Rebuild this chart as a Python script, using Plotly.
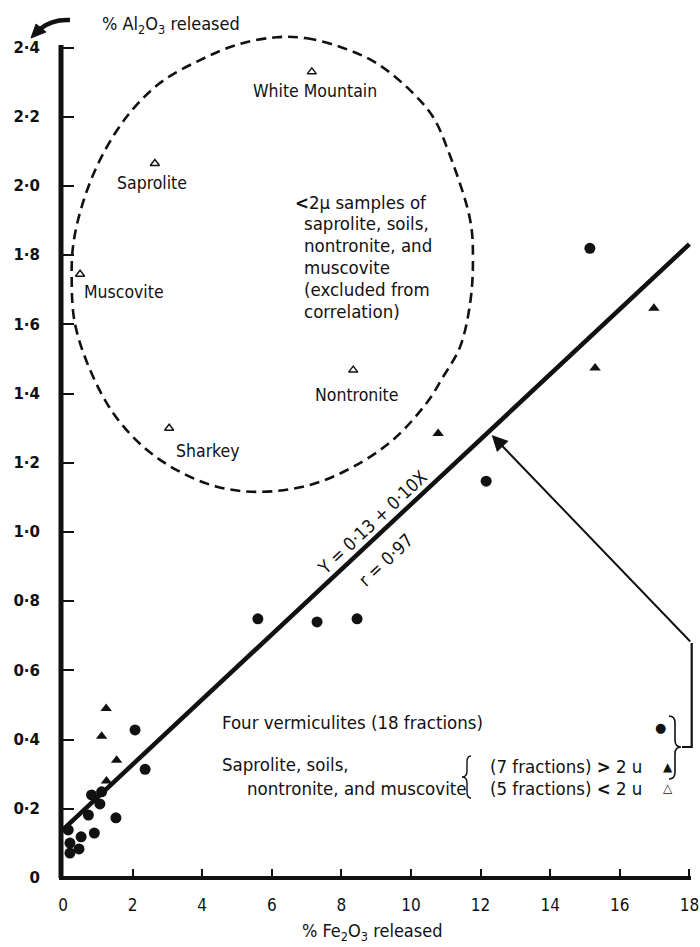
import plotly.graph_objects as go

# ---------------- data ----------------
verm_x = [15.14, 12.16, 5.60, 7.30, 8.45, 2.07, 2.36, 1.52,
          0.82, 1.11, 1.06, 0.73, 0.90, 0.52, 0.15, 0.20, 0.46, 0.20]
verm_y = [1.820, 1.147, 0.749, 0.740, 0.749, 0.428, 0.314, 0.174,
          0.240, 0.249, 0.214, 0.182, 0.130, 0.119, 0.139, 0.101, 0.084, 0.072]

coarse_x = [16.98, 15.29, 10.78, 1.24, 1.11, 1.54, 1.25]
coarse_y = [1.647, 1.474, 1.285, 0.490, 0.410, 0.340, 0.280]

fine_names = ["White Mountain", "Saprolite", "Muscovite", "Nontronite", "Sharkey"]
fine_x = [7.15, 2.64, 0.49, 8.34, 3.05]
fine_y = [2.330, 2.065, 1.745, 1.468, 1.300]

fit_intercept = 0.14
fit_slope = 0.094
fit_x = [0, 18]
fit_y = [fit_intercept + fit_slope * v for v in fit_x]

x_ticks = [0, 2, 4, 6, 8, 10, 12, 14, 16, 18]
y_ticks = [0, 0.2, 0.4, 0.6, 0.8, 1.0, 1.2, 1.4, 1.6, 1.8, 2.0, 2.2, 2.4]
y_ticklabels = ["0", "0·2", "0·4", "0·6", "0·8", "1·0", "1·2", "1·4",
                "1·6", "1·8", "2·0", "2·2", "2·4"]

# dashed outline around the excluded <2u samples
ellipse_x = [6.14, 7.00, 8.05, 9.01, 9.97, 10.63, 11.06, 11.70, 11.78, 11.70,
             11.41, 10.92, 10.45, 9.48, 8.33, 7.10, 5.66, 4.42, 3.27, 2.30,
             1.44, 0.78, 0.34, 0.25, 0.30, 0.57, 1.06, 1.83, 2.79, 3.94, 4.99, 6.14]
ellipse_y = [2.430, 2.427, 2.399, 2.355, 2.277, 2.200, 2.104, 1.902, 1.786, 1.662,
             1.535, 1.448, 1.373, 1.266, 1.188, 1.136, 1.116, 1.131, 1.179, 1.247,
             1.344, 1.468, 1.604, 1.728, 1.835, 1.951, 2.075, 2.200, 2.298, 2.364, 2.408, 2.430]

# ---------------- layout geometry ----------------
W, H = 700, 947
ML, MR, MT, MB = 63, 5, 30, 69
PW, PH = W - ML - MR, H - MT - MB
SX, SY = 34.8, 346.0
X_RANGE = [0, PW / SX]
Y_RANGE = [0, PH / SY]

def fx(px):
    return (px - ML) / PW

def fy(py):
    return (H - MB - py) / PH

FONT = "DejaVu Sans Condensed, DejaVu Sans, sans-serif"
INK = "#111111"

fig = go.Figure()

fig.add_trace(go.Scatter(x=ellipse_x, y=ellipse_y, mode="lines",
                         line=dict(color=INK, width=2.6, dash="10px,6px", shape="spline", smoothing=1.0),
                         hoverinfo="skip", showlegend=False))

fig.add_trace(go.Scatter(x=fit_x, y=fit_y, mode="lines",
                         line=dict(color=INK, width=4.5), showlegend=False))

fig.add_trace(go.Scatter(x=verm_x, y=verm_y, mode="markers",
                         marker=dict(symbol="circle", size=11, color=INK),
                         name="Four vermiculites", showlegend=False))

fig.add_trace(go.Scatter(x=coarse_x, y=coarse_y, mode="markers",
                         marker=dict(symbol="triangle-up", size=10, color=INK),
                         name=">2u", showlegend=False))

fig.add_trace(go.Scatter(x=fine_x, y=fine_y, mode="markers",
                         marker=dict(symbol="triangle-up-open", size=8, color=INK,
                                     line=dict(width=1.4, color=INK)),
                         name="<2u", text=fine_names, showlegend=False, cliponaxis=False))

ann = []

def text(px, py, s, size=16, xanchor="center", angle=0, family=FONT, align="left"):
    ann.append(dict(x=fx(px), y=fy(py), xref="paper", yref="paper", text=s,
                    showarrow=False, xanchor=xanchor, yanchor="middle", align=align,
                    textangle=angle, font=dict(family=family, size=size, color=INK)))

# point labels
label_pos = [(315, 91, "center"), (152, 183, "center"), (82, 292, "left"),
             (356, 395, "center"), (208, 451, "center")]
for (px, py, xa), name in zip(label_pos, fine_names):
    text(px, py, name, size=17.5, xanchor=xa)

# text inside the outline
inner_lines = ["<b><</b>2µ samples of", "saprolite, soils,", "nontronite, and",
               "muscovite", "(excluded from", "correlation)"]
for i, s in enumerate(inner_lines):
    text(293 if i == 0 else 302, 202 + 21.8 * i, s, size=18.5, xanchor="left")

# regression labels
text(372, 522, "Y = 0·13 + 0·10X", size=18, angle=-43.2)
text(386, 559, "r = 0·97", size=18, angle=-43.2)

# legend block
LG = 18.5
text(220, 722, "Four vermiculites (18 fractions)", size=LG, xanchor="left")
text(220, 764, "Saprolite, soils,", size=LG, xanchor="left")
text(245, 788, "nontronite, and muscovite", size=LG, xanchor="left")
text(488, 766, "(7 fractions) <b>></b> 2 u", size=LG, xanchor="left")
text(488, 788, "(5 fractions) <b><</b> 2 u", size=LG, xanchor="left")
text(660, 727, "●", size=13, family="DejaVu Sans")
text(668, 767, "▲", size=12, family="DejaVu Sans")
text(668, 788, "△", size=12, family="DejaVu Sans")

# axis titles
text(100, 25, "% Al<sub>2</sub>O<sub>3</sub> released", size=18, xanchor="left")
text(372, 932, "% Fe<sub>2</sub>O<sub>3</sub> released", size=18)

# arrow to the regression line
ann.append(dict(x=fx(491.7), y=fy(435), xref="paper", yref="paper",
                ax=691.7 - 491.7, ay=643 - 435, axref="pixel", ayref="pixel",
                text="", showarrow=True, arrowhead=2, arrowsize=1.6, arrowwidth=2,
                arrowcolor=INK, standoff=0))

shapes = []

def path_px(points_cmds, width=2, fill=None):
    parts = []
    for cmd, pts in points_cmds:
        coords = " ".join(f"{fx(a):.5f},{fy(b):.5f}" for a, b in pts)
        parts.append(f"{cmd} {coords}")
    d = " ".join(parts)
    if fill:
        d += " Z"
    shapes.append(dict(type="path", path=d, xref="paper", yref="paper",
                       line=dict(color=INK, width=width),
                       fillcolor=fill if fill else "rgba(0,0,0,0)", layer="above"))

# bracket line from arrow corner down and left to the brace
path_px([("M", [(691.7, 643)]), ("L", [(691.7, 747)]), ("L", [(682, 747)])], width=2.2)

# big right brace
path_px([("M", [(669, 716)]), ("Q", [(675, 716), (675, 723)]), ("L", [(675, 740)]),
         ("Q", [(675, 747), (681, 747)]), ("Q", [(675, 747), (675, 754)]),
         ("L", [(675, 772)]), ("Q", [(675, 779), (669, 779)])], width=1.6)

# small left brace
path_px([("M", [(471, 756)]), ("Q", [(467, 756), (467, 762)]), ("L", [(467, 771)]),
         ("Q", [(467, 777), (462, 777)]), ("Q", [(467, 777), (467, 783)]),
         ("L", [(467, 792)]), ("Q", [(467, 798), (471, 798)])], width=1.4)

# axes lines
path_px([("M", [(61, 878)]), ("L", [(61, 45)])], width=5)
path_px([("M", [(59, 878)]), ("L", [(691, 878)])], width=4)

# curved arrow at top-left
path_px([("M", [(70, 20)]), ("Q", [(52, 19), (40, 29)])], width=4.5)
path_px([("M", [(31, 38)]), ("L", [(36, 24)]), ("L", [(46, 32)])], width=1, fill=INK)

fig.update_layout(
    width=W, height=H,
    margin=dict(l=ML, r=MR, t=MT, b=MB),
    paper_bgcolor="white", plot_bgcolor="white",
    showlegend=False,
    annotations=ann, shapes=shapes,
    xaxis=dict(range=X_RANGE, tickvals=x_ticks, ticktext=[str(v) for v in x_ticks],
               ticks="inside", ticklen=9, tickwidth=2, tickcolor=INK, automargin=False,
               showgrid=False, zeroline=False, showline=False,
               tickfont=dict(family=FONT, size=17, color=INK), ticklabelstandoff=15),
    yaxis=dict(range=Y_RANGE, tickvals=y_ticks, ticktext=y_ticklabels,
               ticks="inside", ticklen=11, tickwidth=2, tickcolor=INK, automargin=False,
               showgrid=False, zeroline=False, showline=False,
               tickfont=dict(family="DejaVu Sans", size=15, color=INK, weight="bold"),
               ticklabelstandoff=22),
)

fig.write_html("out.html", config={"displayModeBar": False},
               post_script="document.body.style.margin='0';document.body.style.padding='0';")
